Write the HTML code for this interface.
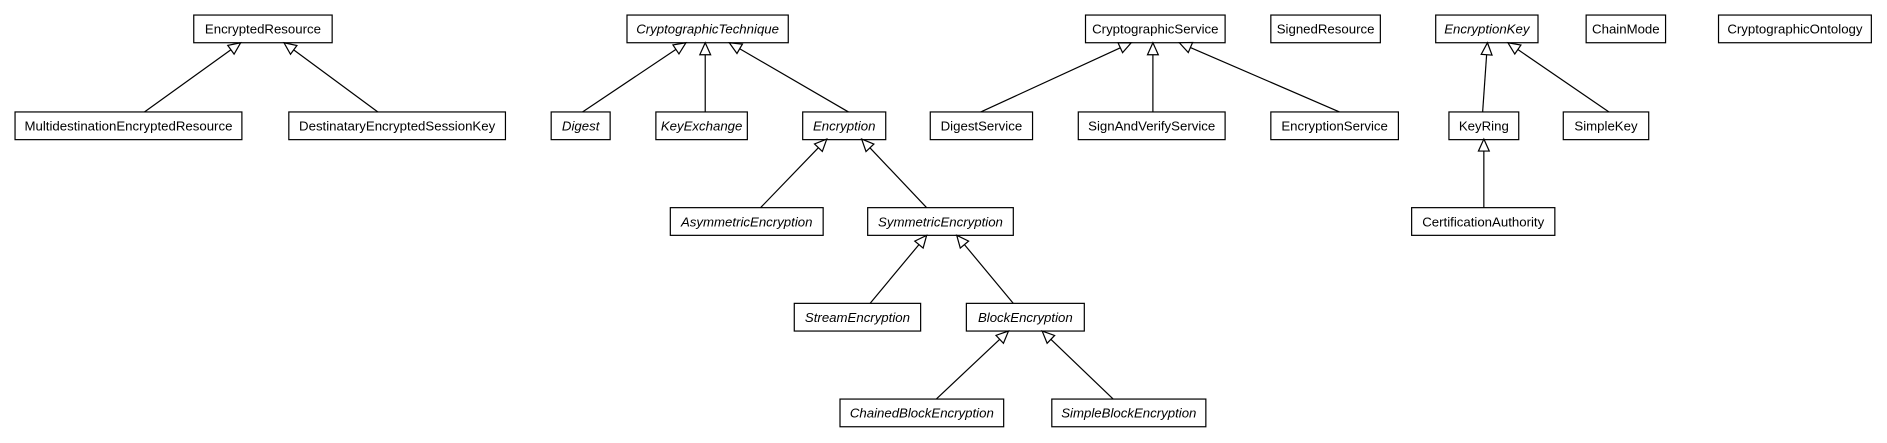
<!DOCTYPE html>
<html><head><meta charset="utf-8"><style>
html,body{margin:0;padding:0;background:#fff;}
svg{display:block;}
text{font-family:"Liberation Sans",sans-serif;font-size:11px;fill:#000;}
</style></head><body>
<svg id="s" width="1887" height="443" viewBox="0 0 1568 368" preserveAspectRatio="none" xmlns="http://www.w3.org/2000/svg">
<g id="boxes"></g><g id="edges"></g>
</svg>
<script>
var NS="http://www.w3.org/2000/svg";
var rows=[12.5,93,172.5,252,331.5],H=23;
var B=[
["EncryptedResource",161,276,0,0],["CryptographicTechnique",521,655,0,1],["CryptographicService",902,1018,0,0],
["SignedResource",1056,1147,0,0],["EncryptionKey",1193,1278,0,1],["ChainMode",1318,1384,0,0],["CryptographicOntology",1428,1555,0,0],
["MultidestinationEncryptedResource",12.5,201,1,0],["DestinataryEncryptedSessionKey",240,420,1,0],["Digest",458,507,1,1],
["KeyExchange",545,621,1,1],["Encryption",667,736,1,1],["DigestService",773,858,1,0],["SignAndVerifyService",896,1018,1,0],
["EncryptionService",1056,1162,1,0],["KeyRing",1204,1262,1,0],["SimpleKey",1299,1370,1,0],
["AsymmetricEncryption",557,684,2,1],["SymmetricEncryption",721,842,2,1],["CertificationAuthority",1173,1292,2,0],
["StreamEncryption",660,765,3,1],["BlockEncryption",803,901,3,1],
["ChainedBlockEncryption",698,834,4,1],["SimpleBlockEncryption",874,1002,4,1]];
var g=document.getElementById("boxes");
B.forEach(function(b){
 var y=rows[b[3]];
 var r=document.createElementNS(NS,"rect");
 r.setAttribute("x",b[1]);r.setAttribute("y",y);r.setAttribute("width",b[2]-b[1]);r.setAttribute("height",H);
 r.setAttribute("fill","#fff");r.setAttribute("stroke","#000");r.setAttribute("stroke-width","1");
 g.appendChild(r);
 var t=document.createElementNS(NS,"text");
 t.setAttribute("x",(b[1]+b[2])/2);t.setAttribute("y",y+15.5);t.setAttribute("text-anchor","middle");
 if(b[4])t.setAttribute("font-style","italic");
 t.textContent=b[0];g.appendChild(t);
});
var E=[[120,93,200,35.5],[314,93,236,35.5],[484,93,570,35.5],[586,93,586,35.5],[705,93,606,35.5],
[632,172.5,687,115.5],[770,172.5,716,115.5],[723,252,770,195.5],[842,252,795,195.5],
[778,331.5,838,275],[925,331.5,866,275],[815,93,940,35.5],[958,93,958,35.5],[1113,93,980,35.5],
[1232,93,1236,35.5],[1337,93,1253,35.5],[1233,172.5,1233,115.5]];
var ge=document.getElementById("edges");
E.forEach(function(e){
 var dx=e[2]-e[0],dy=e[3]-e[1],L=Math.sqrt(dx*dx+dy*dy),ux=dx/L,uy=dy/L,al=10,aw=4.5;
 var bx=e[2]-ux*al,by=e[3]-uy*al;
 var l=document.createElementNS(NS,"line");
 l.setAttribute("x1",e[0]);l.setAttribute("y1",e[1]);l.setAttribute("x2",bx);l.setAttribute("y2",by);
 l.setAttribute("stroke","#000");l.setAttribute("stroke-width","1");ge.appendChild(l);
 var p=document.createElementNS(NS,"polygon");
 p.setAttribute("points",e[2]+","+e[3]+" "+(bx-uy*aw)+","+(by+ux*aw)+" "+(bx+uy*aw)+","+(by-ux*aw));
 p.setAttribute("fill","#fff");p.setAttribute("stroke","#000");p.setAttribute("stroke-width","1");ge.appendChild(p);
});
</script>
</body></html>
